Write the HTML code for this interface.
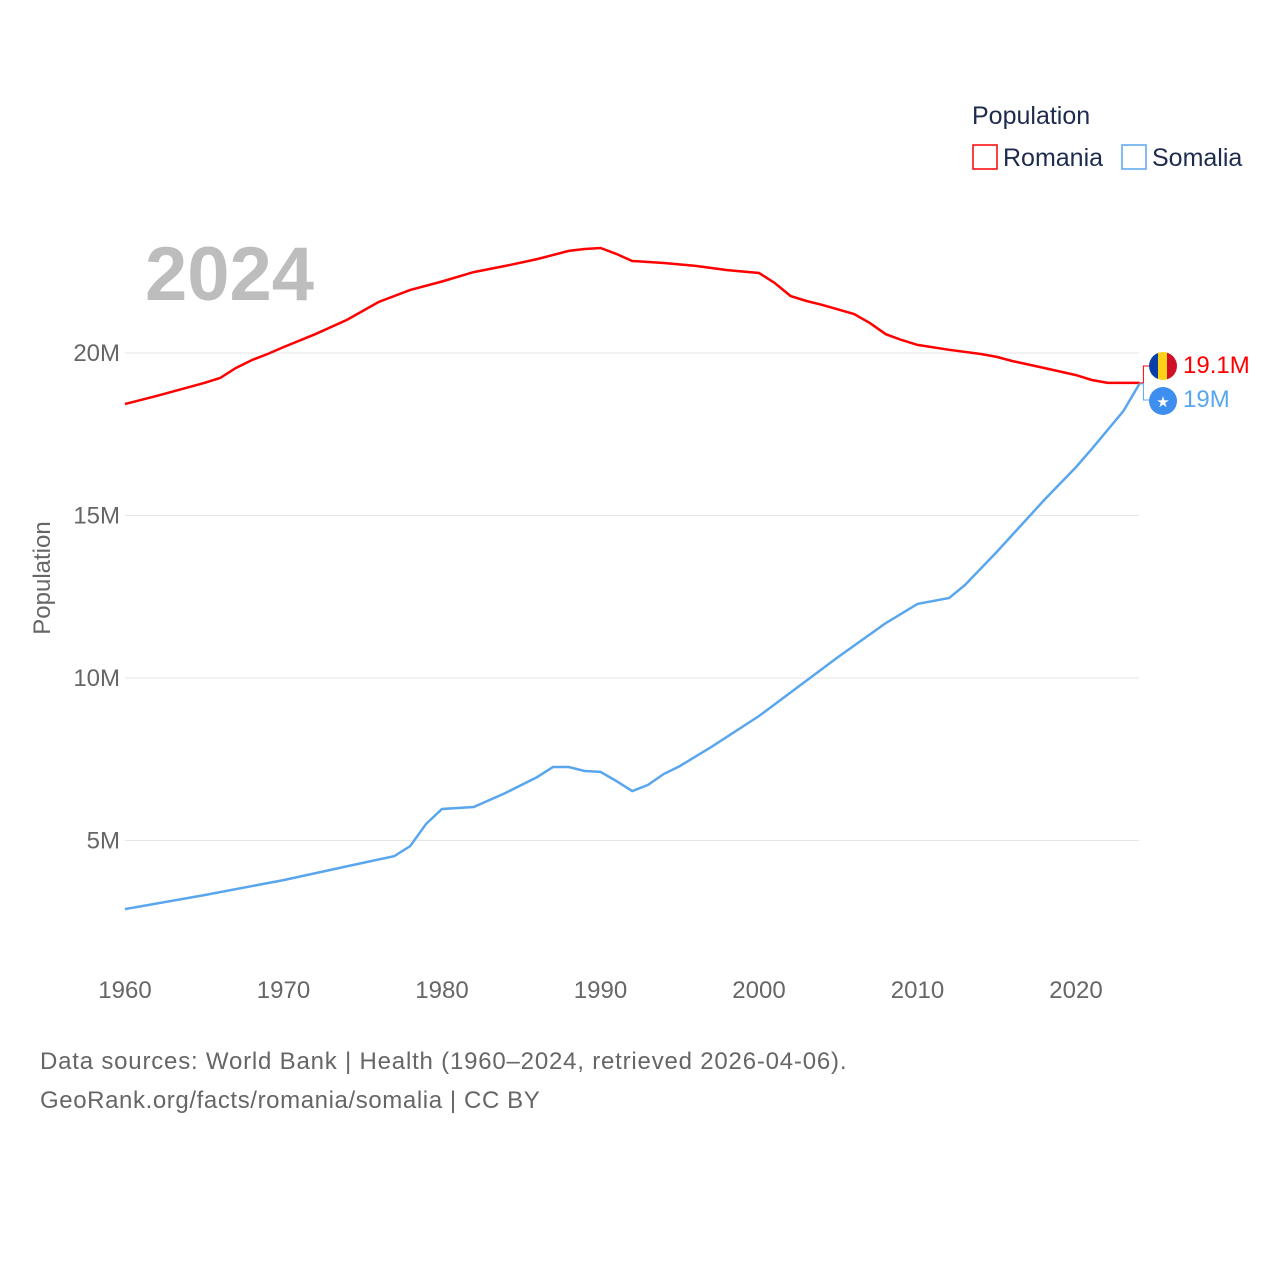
<!DOCTYPE html>
<html><head><meta charset="utf-8"><style>
body{margin:0;background:#fff;width:1280px;height:1280px;overflow:hidden;font-family:"Liberation Sans",sans-serif}
</style></head><body>
<svg id="chart" width="1280" height="1280" xmlns="http://www.w3.org/2000/svg">
<text x="972" y="124" font-size="25" fill="#1d2b4f">Population</text>
<g><rect x="973" y="145" width="24" height="24" fill="none" stroke="#f00" stroke-width="1.5"/><text x="1003" y="166" font-size="25" fill="#1d2b4f">Romania</text></g>
<g><rect x="1122" y="145" width="24" height="24" fill="none" stroke="#5aa6ee" stroke-width="1.5"/><text x="1152" y="166" font-size="25" fill="#1d2b4f">Somalia</text></g>
<text x="145" y="300" font-size="76" font-weight="bold" fill="#bdbdbd">2024</text>
<text transform="translate(50,578) rotate(-90)" text-anchor="middle" font-size="24" fill="#666">Population</text>
<g id="grid"></g><g id="lines"></g>
<text x="40" y="1069" font-size="24" fill="#666" letter-spacing="0.8">Data sources: World Bank | Health (1960–2024, retrieved 2026-04-06).</text>
<text x="40" y="1108" font-size="24" fill="#666" letter-spacing="0.6">GeoRank.org/facts/romania/somalia | CC BY</text>
</svg>
<script>
const romaniaYears=[1960,1962,1965,1966,1967,1968,1969,1970,1972,1974,1976,1978,1980,1982,1984,1986,1988,1989,1990,1991,1992,1994,1996,1998,2000,2001,2002,2003,2004,2006,2007,2008,2009,2010,2012,2014,2015,2016,2018,2020,2021,2022,2023,2024];
const romaniaValues=[18.43,18.68,19.08,19.23,19.54,19.78,19.97,20.18,20.58,21.02,21.57,21.94,22.2,22.49,22.68,22.89,23.14,23.2,23.23,23.05,22.83,22.77,22.68,22.55,22.46,22.15,21.75,21.6,21.48,21.2,20.92,20.58,20.4,20.25,20.1,19.97,19.88,19.75,19.54,19.32,19.17,19.08,19.08,19.08];
const somaliaYears=[1960,1965,1970,1975,1977,1978,1979,1980,1982,1984,1986,1987,1988,1989,1990,1991,1992,1993,1994,1995,1997,2000,2005,2008,2010,2012,2013,2015,2018,2020,2021,2023,2024];
const somaliaValues=[2.89,3.32,3.78,4.31,4.52,4.83,5.51,5.97,6.03,6.46,6.95,7.26,7.26,7.14,7.11,6.83,6.52,6.71,7.05,7.29,7.88,8.83,10.65,11.69,12.28,12.46,12.86,13.88,15.48,16.49,17.05,18.22,19.05];
const yTicks=[5,10,15,20];
const yTickLabels=["5M","10M","15M","20M"];
const xTicks=[1960,1970,1980,1990,2000,2010,2020];
const NS="http://www.w3.org/2000/svg";
const X=y=>125+(y-1960)*(951/60);
const Y=v=>1003-v*32.5;
const grid=document.getElementById('grid'),lines=document.getElementById('lines');
function mk(t,a,p){const e=document.createElementNS(NS,t);for(const k in a)e.setAttribute(k,a[k]);p.appendChild(e);return e;}
yTicks.forEach((v,i)=>{
 const l=mk('line',{x1:125,x2:1139,y1:Y(v),y2:Y(v),stroke:'#e6e6e6','stroke-width':1},grid);
 
 
 const t=mk('text',{x:120,y:Y(v)+8,'text-anchor':'end','font-size':24,fill:'#666'},grid);t.textContent=yTickLabels[i];
 
 
});
xTicks.forEach(y=>{
 const t=mk('text',{x:X(y),y:998,'text-anchor':'middle','font-size':24,fill:'#666'},grid);t.textContent=y;
 
 
});
function line(ys,vs,c,name){
 const p=mk('path',{d:ys.map((y,i)=>(i?'L':'M')+X(y).toFixed(1)+','+Y(vs[i]).toFixed(1)).join(''),fill:'none',stroke:c,'stroke-width':2.5},lines);
 
 
}
line(romaniaYears,romaniaValues,'#f00','romania-line');
line(somaliaYears,somaliaValues,'#5aa6ee','somalia-line');
const rx=X(2024),ry=Y(romaniaValues[romaniaValues.length-1]),sy=Y(somaliaValues[somaliaValues.length-1]);
mk('path',{d:`M${rx},${ry}H${rx+4}V366H${rx+10}`,fill:'none',stroke:'#f00','stroke-width':1},lines);
mk('path',{d:`M${rx},${sy}H${rx+4}V400H${rx+10}`,fill:'none',stroke:'#5aa6ee','stroke-width':1},lines);
const fr=mk('g',{},lines);


mk('clipPath',{id:'cr'},fr).appendChild(document.createElementNS(NS,'circle'));
const cc=fr.querySelector('circle');cc.setAttribute('cx',1163);cc.setAttribute('cy',366);cc.setAttribute('r',14);
mk('rect',{x:1149,y:352,width:10,height:28,fill:'#0b3fa8','clip-path':'url(#cr)'},fr);
mk('rect',{x:1158,y:352,width:10,height:28,fill:'#fcd116','clip-path':'url(#cr)'},fr);
mk('rect',{x:1167,y:352,width:10,height:28,fill:'#ce1126','clip-path':'url(#cr)'},fr);
const fs=mk('g',{},lines);


mk('circle',{cx:1163,cy:401,r:14,fill:'#3d8eef'},fs);
const st=mk('text',{x:1163,y:407,'text-anchor':'middle','font-size':15,fill:'#fff'},fs);st.textContent='★';
const l1=mk('text',{x:1183,y:373,'font-size':24,fill:'#f00'},lines);l1.textContent='19.1M';


const l2=mk('text',{x:1183,y:407,'font-size':24,fill:'#5aa6ee'},lines);l2.textContent='19M';


</script>
</body></html>
